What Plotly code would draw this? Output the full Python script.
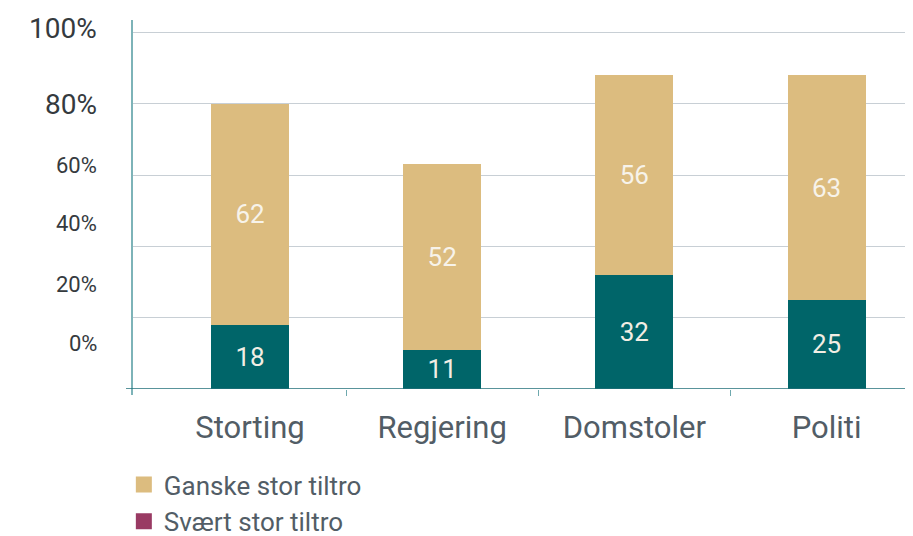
import plotly.graph_objects as go

categories = ["Storting", "Regjering", "Domstoler", "Politi"]
svaert_stor = [18, 11, 32, 25]
ganske_stor = [62, 52, 56, 63]
series_names = ["Ganske stor tiltro", "Svært stor tiltro"]
y_tick_text = ["100%", "80%", "60%", "40%", "20%", "0%"]

TEAL = "#006569"
TAN = "#dcbc7f"
MAROON = "#993a63"
FONT = "Roboto"
LABEL_COLOR = "#525d66"

fig = go.Figure()

fig.add_trace(go.Bar(
    x=categories, y=svaert_stor, name=series_names[1], marker_color=TEAL,
    marker_line_width=0, width=0.406, showlegend=False,
    texttemplate="%{y}", textposition="inside", insidetextanchor="middle",
    textfont=dict(family=FONT, size=26, color="#f2eee4"), constraintext="none",
))
fig.add_trace(go.Bar(
    x=categories, y=ganske_stor, name=series_names[0], marker_color=TAN,
    marker_line_width=0, width=0.406, showlegend=False,
    texttemplate="%{y}", textposition="inside", insidetextanchor="middle",
    textfont=dict(family=FONT, size=26, color="#f7f3ea"), constraintext="none",
))

# legend entries (the reference legend uses these swatch colours)
for name, col, grp in [(series_names[0], TAN, "a"), (series_names[1], MAROON, "b")]:
    fig.add_trace(go.Scatter(
        x=[None], y=[None], mode="markers", name=name, legendgroup=grp,
        marker=dict(symbol="square", size=16, color=col),
    ))

# boundary ticks on an overlaid axis
fig.add_trace(go.Scatter(x=[None], y=[None], xaxis="x2", showlegend=False))

X_RANGE = [-0.614, 3.45]
fig.update_layout(
    width=905, height=528,
    margin=dict(l=124, r=0, t=12, b=147, autoexpand=False),
    paper_bgcolor="white", plot_bgcolor="white",
    barmode="stack", bargap=0.6,
    font=dict(family=FONT, color=LABEL_COLOR),
    xaxis=dict(
        type="category", range=X_RANGE, showline=False, ticks="",
        showgrid=False, zeroline=False, automargin=False,
        tickfont=dict(family=FONT, size=31, color=LABEL_COLOR),
        ticklabelstandoff=17,
    ),
    xaxis2=dict(
        overlaying="x", range=X_RANGE, tickvals=[0.5, 1.5, 2.5],
        showticklabels=False, ticks="outside", ticklen=6, tickwidth=1,
        tickcolor="#6fa9ae", showgrid=False, zeroline=False, showline=False,
        side="bottom", anchor="y",
    ),
    yaxis=dict(
        range=[0, 103.5], tickvals=[20, 40, 60, 80, 100], showticklabels=False,
        showgrid=True, gridcolor="#c8cfd5", gridwidth=1, zeroline=False,
        showline=False, ticks="", automargin=False,
    ),
    legend=dict(
        xref="container", yref="container", x=0.128, y=0.142,
        xanchor="left", yanchor="top", orientation="v",
        font=dict(family=FONT, size=26, color=LABEL_COLOR),
        tracegroupgap=0, bgcolor="rgba(0,0,0,0)",
        itemsizing="trace",
    ),
    showlegend=True,
)

# y axis line (extends a little below baseline) and baseline
fig.add_shape(type="line", xref="paper", yref="paper", x0=0, x1=0,
              y0=-6 / 369, y1=1, line=dict(color="#7db3b8", width=2))
fig.add_shape(type="line", xref="paper", yref="y", x0=-6 / 781, x1=1,
              y0=0, y1=0, line=dict(color="#22717a", width=1.5))

# y tick labels (offset from gridlines as in the reference)
label_vals = [101.0, 79.9, 62.6, 46.3, 29.3, 12.9]
label_sizes = [28, 28, 22, 22, 22, 22]
for txt, v, s in zip(y_tick_text, label_vals, label_sizes):
    fig.add_annotation(
        text=txt, xref="paper", yref="y", x=-33 / 781, y=v,
        xanchor="right", yanchor="middle", showarrow=False,
        font=dict(family=FONT, size=s, color="#353a3e"),
    )

fig.write_html("out.html")
